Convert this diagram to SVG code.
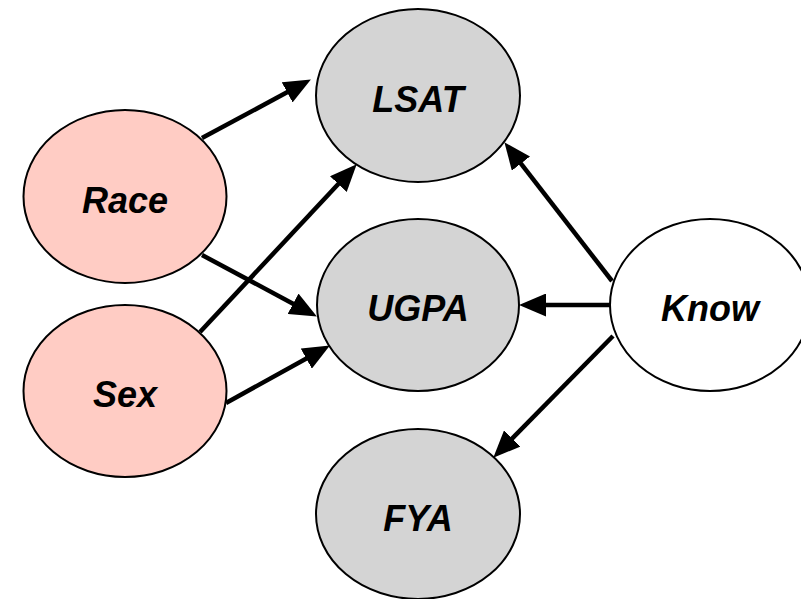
<svg xmlns="http://www.w3.org/2000/svg" width="801" height="599" viewBox="0 0 801 599">
<style>
.n{stroke:#000;stroke-width:2}
.pink{fill:#ffccc4}
.gray{fill:#d4d4d4}
.white{fill:#fff}
.t{font-family:"Liberation Sans",Arial,sans-serif;font-weight:bold;font-style:italic;font-size:36px;text-anchor:middle;fill:#000}
.e{stroke:#000;stroke-width:4.5;fill:none;marker-end:url(#ah)}
</style>
<defs>
<marker id="ah" markerUnits="userSpaceOnUse" markerWidth="27" markerHeight="23" refX="11" refY="11.5" orient="auto" viewBox="0 0 27 23">
<path d="M0,0 L27,11.5 L0,23 z" fill="#000"/>
</marker>
</defs>
<g id="edges">
<line class="e" x1="202" y1="138" x2="296.8" y2="87.1"/>
<line class="e" x1="200" y1="332" x2="345.8" y2="176"/>
<line class="e" x1="202" y1="255" x2="302.8" y2="308.9"/>
<line class="e" x1="226" y1="403" x2="315.9" y2="353.3"/>
<line class="e" x1="612" y1="281" x2="514.2" y2="154.9"/>
<line class="e" x1="610" y1="305" x2="535" y2="305"/>
<line class="e" x1="613" y1="336" x2="504.5" y2="446.3"/>
</g>
<g id="Race"><ellipse class="n pink" cx="125" cy="196.5" rx="101.5" ry="86.5"/><text class="t" x="125" y="213">Race</text></g>
<g id="Sex"><ellipse class="n pink" cx="125" cy="391" rx="101.5" ry="86"/><text class="t" x="125" y="407">Sex</text></g>
<g id="LSAT"><ellipse class="n gray" cx="418" cy="95.5" rx="102" ry="86.5"/><text class="t" x="418" y="112">LSAT</text></g>
<g id="UGPA"><ellipse class="n gray" cx="418" cy="305" rx="101" ry="86"/><text class="t" x="418" y="321">UGPA</text></g>
<g id="FYA"><ellipse class="n gray" cx="418" cy="514" rx="102" ry="85"/><text class="t" x="418" y="531">FYA</text></g>
<g id="Know"><ellipse class="n white" cx="710" cy="305" rx="100" ry="86"/><text class="t" x="710" y="321">Know</text></g>
</svg>
